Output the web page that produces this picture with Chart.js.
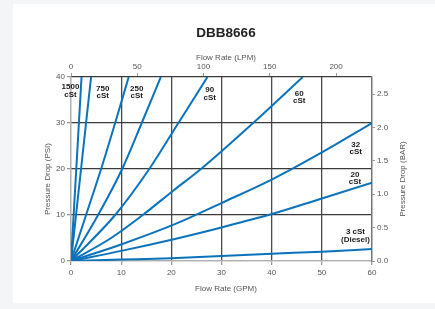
<!DOCTYPE html>
<html><head><meta charset="utf-8">
<script src="https://cdn.jsdelivr.net/npm/chart.js@4.4.0/dist/chart.umd.min.js"></script>
<style>
html,body{margin:0;padding:0;background:#f4f5f7;width:435px;height:309px;overflow:hidden}
#card{position:absolute;left:13px;top:4px;width:422px;height:299px;background:#fff}
#wrap{position:absolute;left:0;top:0;width:435px;height:309px}
</style></head><body>
<div id="card"></div>
<div id="wrap"><canvas id="c" width="435" height="309"></canvas></div>
<script>
// Tick labels
const gpmTicks = [0, 10, 20, 30, 40, 50, 60];
const psiTicks = [0, 10, 20, 30, 40];
const lpmTicks = [0, 50, 100, 150, 200];
const barTicks = [0, 0.5, 1.0, 1.5, 2.0, 2.5];
const GPM_MAX = 60, PSI_MAX = 40;
const LPM_PER_GPM = 3.78541, PSI_PER_BAR = 14.5038;

// Series: [GPM, PSI]
const cst1500 = [[0,0],[1.05,20],[2.1,40]];
const cst750  = [[0,0],[2.0,20],[4.0,40]];
const cst250  = [[0,0],[3.0,10],[6.0,20],[8.8,30],[11.5,40]];
const cst150  = [[0,0],[5.4,10],[10.2,20],[14.1,30],[17.9,40]];
const cst90   = [[0,0],[8.8,10],[15.6,20],[21.4,30],[27.2,40]];
const cst60   = [[0,0],[8.0,5],[14.3,10],[20.5,15.4],[25.9,20],[36.3,30],[46.2,40]];
const cst32   = [[0,0],[10,3.6],[20.7,8.0],[30,12.6],[40.2,17.8],[50,23.6],[60,30]];
const cst20   = [[0,0],[10,2.2],[20.7,4.8],[30,7.3],[40,10.2],[50,13.6],[60,17]];
const cst3    = [[0,0],[10,0.3],[20,0.6],[30,1.1],[40,1.6],[50,2.0],[60,2.6]];
const seriesList = [cst1500, cst750, cst250, cst150, cst90, cst60, cst32, cst20, cst3];

// Curve labels: text lines and anchor in data units [GPM, PSI]
const curveLabels = [
  {text:['1500','cSt'], at:[-0.1,36.95]},
  {text:['750','cSt'], at:[6.32,36.7]},
  {text:['250','cSt'], at:[13.1,36.7]},
  {text:['90','cSt'], at:[27.65,36.3]},
  {text:['60','cSt'], at:[45.5,35.6]},
  {text:['32','cSt'], at:[56.75,24.5]},
  {text:['20','cSt'], at:[56.6,18.0]},
  {text:['3 cSt','(Diesel)'], at:[56.7,5.47]}
];

const FONT = '"Liberation Sans", Arial, Helvetica, sans-serif';
const BLUE = '#0b73bc';

const textPlugin = {
  id: 'texts',
  afterDatasetsDraw(chart) {
    const ctx = chart.ctx, xs = chart.scales.x, ys = chart.scales.y;
    ctx.save();
    ctx.fillStyle = '#1a1a1a';
    ctx.font = 'bold 8px ' + FONT;
    ctx.textAlign = 'center';
    ctx.textBaseline = 'middle';
    curveLabels.forEach(l => {
      const px = xs.getPixelForValue(l.at[0]);
      const py = ys.getPixelForValue(l.at[1]);
      ctx.fillText(l.text[0], px, py - 3.8);
      ctx.fillText(l.text[1], px, py + 3.8);
    });
    ctx.restore();
  },
  afterDraw(chart) {
    const ctx = chart.ctx, a = chart.chartArea;
    const cx = 226;
    ctx.save();
    ctx.textAlign = 'center';
    ctx.textBaseline = 'middle';
    ctx.fillStyle = '#222';
    ctx.font = 'bold 13.5px ' + FONT;
    ctx.fillText('DBB8666', cx, 33.5);
    ctx.fillStyle = '#555';
    ctx.font = '8px ' + FONT;
    ctx.fillText('Flow Rate (LPM)', cx, 57.5);
    ctx.fillText('Flow Rate (GPM)', cx, 288.5);
    ctx.translate(47.5, 179);
    ctx.rotate(-Math.PI / 2);
    ctx.fillText('Pressure Drop (PSI)', 0, 0);
    ctx.restore();
    ctx.save();
    ctx.textAlign = 'center';
    ctx.textBaseline = 'middle';
    ctx.fillStyle = '#555';
    ctx.font = '8px ' + FONT;
    ctx.translate(402.5, 179);
    ctx.rotate(-Math.PI / 2);
    ctx.fillText('Pressure Drop (BAR)', 0, 0);
    ctx.restore();
  }
};

const tickFont = {family: FONT, size: 8};
const setTicks = arr => scale => { scale.ticks = arr.map(v => ({value: v})); };

new Chart(document.getElementById('c'), {
  type: 'line',
  data: {
    datasets: seriesList.map(s => ({
      data: s.map(p => ({x: p[0], y: p[1]})),
      borderColor: BLUE,
      borderWidth: 2,
      pointRadius: 0,
      fill: false,
      cubicInterpolationMode: 'monotone',
      xAxisID: 'x',
      yAxisID: 'y'
    }))
  },
  options: {
    responsive: false,
    animation: false,
    devicePixelRatio: 1,
    layout: {padding: 0},
    plugins: {legend: {display: false}, tooltip: {enabled: false}, title: {display: false}},
    scales: {
      x: {
        type: 'linear', position: 'bottom', min: 0, max: GPM_MAX,
        afterBuildTicks: setTicks(gpmTicks),
        afterFit: s => { s.height = 48; },
        grid: {
          color: c => c.tick && c.tick.value === 0 ? '#b0b0b0' : (c.tick && c.tick.value === GPM_MAX ? '#777' : '#4a4a4a'),
          lineWidth: 1.3, tickLength: 4, tickColor: '#999'
        },
        border: {display: true, color: '#b0b0b0', width: 1.3},
        ticks: {font: tickFont, color: '#555', padding: 3, maxRotation: 0, callback: v => String(v)}
      },
      x2: {
        type: 'linear', position: 'top', min: 0, max: GPM_MAX * LPM_PER_GPM,
        afterBuildTicks: setTicks(lpmTicks),
        afterFit: s => { s.height = 77; },
        grid: {drawOnChartArea: false, tickLength: 4, tickColor: '#999', lineWidth: 1},
        border: {display: false},
        ticks: {font: tickFont, color: '#555', padding: 1, maxRotation: 0, callback: v => String(v)}
      },
      y: {
        type: 'linear', position: 'left', min: 0, max: PSI_MAX,
        afterBuildTicks: setTicks(psiTicks),
        afterFit: s => { s.width = 71; },
        grid: {
          color: c => c.tick && c.tick.value === 0 ? '#b0b0b0' : '#3a3a3a',
          lineWidth: 1.3, tickLength: 4, tickColor: '#999'
        },
        border: {display: true, color: '#b0b0b0', width: 1.3},
        ticks: {font: tickFont, color: '#555', padding: 2, callback: v => String(v)}
      },
      y2: {
        type: 'linear', position: 'right', min: 0, max: PSI_MAX / PSI_PER_BAR,
        afterBuildTicks: setTicks(barTicks),
        afterFit: s => { s.width = 63; },
        grid: {drawOnChartArea: false, tickLength: 3, tickColor: '#999', lineWidth: 1},
        border: {display: true, color: '#777', width: 1.3},
        ticks: {font: tickFont, color: '#555', padding: 2, callback: v => Number(v).toFixed(1)}
      }
    }
  },
  plugins: [textPlugin]
});
</script>
</body></html>
